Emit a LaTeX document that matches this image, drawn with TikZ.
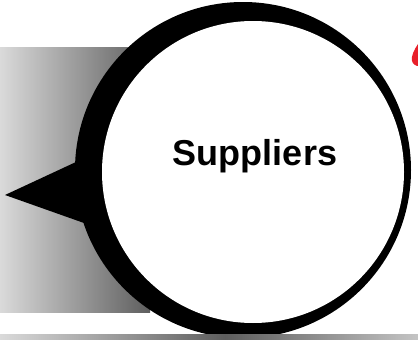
\documentclass[tikz,border=0pt]{standalone}
\usepackage{fontspec}
\setmainfont{Liberation Sans}
\usetikzlibrary{positioning}
\definecolor{paleg}{HTML}{DADADA}
\definecolor{darkg}{HTML}{5E5E5E}
\definecolor{signal}{HTML}{E8202A}
\tikzset{
  backdisc/.style={circle,fill=black,minimum size=336pt,inner sep=0pt},
  bubble/.style={circle,fill=white,minimum size=302pt,inner sep=0pt},
  title/.style={font=\fontsize{36}{40}\selectfont\bfseries,inner sep=0pt},
}
\begin{document}
\begin{tikzpicture}[x=1pt,y=-1pt]
  \useasboundingbox (0,0) rectangle (418,340);
  % backdrop
  \shade[left color=paleg,right color=darkg] (0,47) rectangle (150,312);
  % shadow with pointer
  \node[backdisc] (shadow) at (243,170) {};
  \coordinate (tip) at (5,195);
  \fill (tip) -- (76,162) -- (84,223) -- cycle;
  \node[bubble] (sup) at (253,172) {};
  \node[title,anchor=base] (suptext) at (255,165) {Suppliers};
  % strip along the bottom
  \shade[left color=paleg,right color=darkg] (0,334) rectangle (225,340);
  \shade[left color=darkg,right color=paleg!90!black] (225,334) rectangle (418,340);
  % cut-off mark, top right
  \fill[signal] (418,44) .. controls (414,50) and (411,56) .. (412,61)
    .. controls (413,65) and (417,66) .. (418,66) -- cycle;
\end{tikzpicture}
\end{document}
